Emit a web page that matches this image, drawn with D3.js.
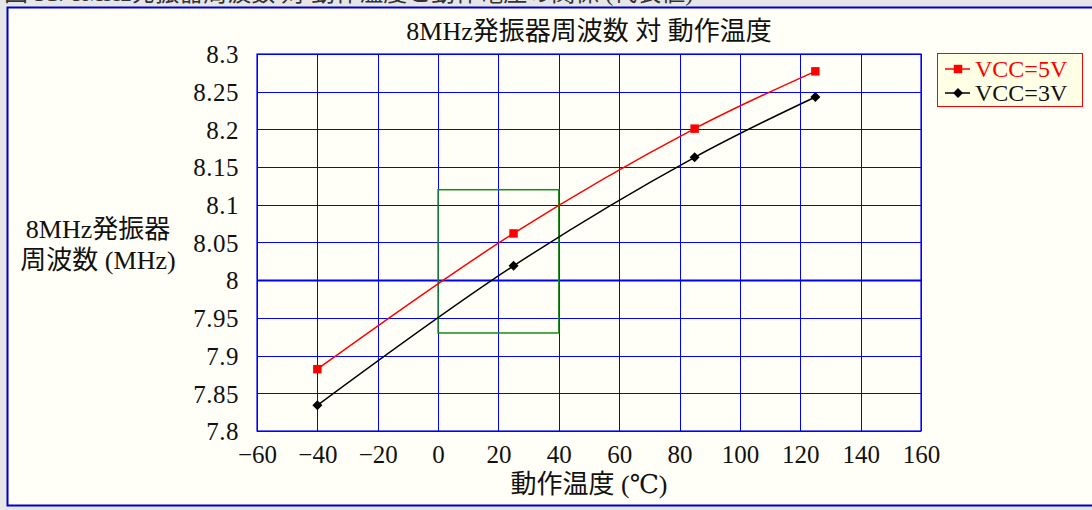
<!DOCTYPE html>
<html>
<head>
<meta charset="utf-8">
<script src="https://cdn.jsdelivr.net/npm/d3@7"></script>
<style>
  html, body { margin: 0; padding: 0; background: #e6e6e6; }
  svg text { font-family: "Liberation Serif", "DejaVu Serif", "Noto Sans CJK JP", serif; fill: #111; }
</style>
</head>
<body>
<div id="chart"></div>
<script>
// data
const temps = [-40, 25, 85, 125];
const vcc5 = [7.882, 8.062, 8.201, 8.277];
const vcc3 = [7.834, 8.019, 8.163, 8.243];
const seriesNames = ["VCC=5V", "VCC=3V"];
const xTicks = [-60, -40, -20, 0, 20, 40, 60, 80, 100, 120, 140, 160];
const yTicks = [7.8, 7.85, 7.9, 7.95, 8, 8.05, 8.1, 8.15, 8.2, 8.25, 8.3];
const boxX = [0, 40];
const boxY = [7.93, 8.12];

const W = 1092, H = 510;
const margin = { top: 54, right: 171, bottom: 79, left: 257 };

const svg = d3.select("#chart").append("svg")
    .attr("width", W)
    .attr("height", H);

// caption of the page above the frame, mostly cut off
svg.append("text")
    .attr("x", 4).attr("y", 1)
    .style("font-size", "24px")
    .style("fill", "#333")
    .text("図 31. 8MHz発振器周波数 対 動作温度と動作電圧の関係 (代表値)");

// outer frame
svg.append("rect")
    .attr("x", 7.5).attr("y", 7.5)
    .attr("width", W + 10).attr("height", 498)
    .attr("fill", "#fffff7")
    .attr("stroke", "#0000cc")
    .attr("stroke-width", 2);

const x = d3.scaleLinear().domain([-60, 160]).range([margin.left, W - margin.right]);
const y = d3.scaleLinear().domain([7.8, 8.3]).range([H - margin.bottom, margin.top]);

const g = svg.append("g");

// grid
g.selectAll(".vgrid")
    .data(xTicks)
    .enter().append("line")
    .attr("x1", d => Math.round(x(d)) + 0.5).attr("x2", d => Math.round(x(d)) + 0.5)
    .attr("y1", y(8.3)).attr("y2", y(7.8))
    .attr("stroke", "#0000ff").attr("stroke-width", 1);

g.selectAll(".hgrid")
    .data(yTicks)
    .enter().append("line")
    .attr("x1", x(-60)).attr("x2", x(160))
    .attr("y1", d => Math.round(y(d)) + 0.5).attr("y2", d => Math.round(y(d)) + 0.5)
    .attr("stroke", "#0000ff")
    .attr("stroke-width", d => d === 8 ? 2 : 1);

// plot border
g.append("rect")
    .attr("x", x(-60)).attr("y", y(8.3))
    .attr("width", x(160) - x(-60)).attr("height", y(7.8) - y(8.3))
    .attr("fill", "none").attr("stroke", "#0000ff").attr("stroke-width", 1.2);

// green spec box
g.append("rect")
    .attr("x", x(boxX[0])).attr("y", y(boxY[1]))
    .attr("width", x(boxX[1]) - x(boxX[0]))
    .attr("height", y(boxY[0]) - y(boxY[1]))
    .attr("fill", "none").attr("stroke", "#168a16").attr("stroke-width", 1.5);

// axes labels
const yAxis = svg.append("g")
    .attr("transform", `translate(${margin.left - 15},0)`)
    .call(d3.axisLeft(y).tickValues(yTicks).tickSize(0).tickFormat(d => d3.format("")(+d.toFixed(2))));
yAxis.select(".domain").remove();
yAxis.selectAll("text")
    .attr("dy", "0.35em")
    .style("font-size", "25px")
    .style("letter-spacing", "0.5px")
    .style("font-family", "'Liberation Serif', serif");

const xAxis = svg.append("g")
    .attr("transform", `translate(0,${H - margin.bottom + 11})`)
    .call(d3.axisBottom(x).tickValues(xTicks).tickSize(0).tickFormat(d => d < 0 ? "\u2212" + Math.abs(d) : d));
xAxis.select(".domain").remove();
xAxis.selectAll("text")
    .attr("dy", "0.71em")
    .style("font-size", "25px")
    .style("font-family", "'Liberation Serif', serif");

// series
const line = d3.line()
    .x(d => x(d[0]))
    .y(d => y(d[1]))
    .curve(d3.curveCatmullRom.alpha(0.5));

const series = [
    { name: seriesNames[0], values: temps.map((t, i) => [t, vcc5[i]]), color: "#ff0000", symbol: d3.symbolSquare, size: 72, rot: 0 },
    { name: seriesNames[1], values: temps.map((t, i) => [t, vcc3[i]]), color: "#000000", symbol: d3.symbolSquare, size: 50, rot: 45 }
];

series.forEach(s => {
    g.append("path")
        .datum(s.values)
        .attr("d", line)
        .attr("fill", "none")
        .attr("stroke", s.color)
        .attr("stroke-width", 1.5);
    g.selectAll(null)
        .data(s.values)
        .enter().append("path")
        .attr("d", d3.symbol().type(s.symbol).size(s.size))
        .attr("transform", d => `translate(${x(d[0])},${y(d[1])}) rotate(${s.rot})`)
        .attr("fill", s.color);
});

// titles
svg.append("text")
    .attr("x", (x(-60) + x(160)) / 2).attr("y", 40)
    .attr("text-anchor", "middle")
    .style("font-size", "26px")
    .text("8MHz発振器周波数 対 動作温度");

svg.append("text")
    .attr("x", (x(-60) + x(160)) / 2).attr("y", 493)
    .attr("text-anchor", "middle")
    .style("font-size", "26px")
    .text("動作温度 (℃)");

const yTitle = svg.append("text")
    .attr("text-anchor", "middle")
    .style("font-size", "26px");
yTitle.append("tspan").attr("x", 98).attr("y", 238).text("8MHz発振器");
yTitle.append("tspan").attr("x", 98).attr("y", 269).text("周波数 (MHz)");

// legend
const legend = svg.append("g").attr("transform", "translate(937,53)");
legend.append("rect")
    .attr("x", 0.5).attr("y", 0.5)
    .attr("width", 145).attr("height", 53)
    .attr("fill", "#ffffe6")
    .attr("stroke", "#ff0000").attr("stroke-width", 1);

series.forEach((s, i) => {
    const ly = 16 + i * 24;
    legend.append("line")
        .attr("x1", 8).attr("x2", 33)
        .attr("y1", ly).attr("y2", ly)
        .attr("stroke", s.color).attr("stroke-width", 1.5);
    legend.append("path")
        .attr("d", d3.symbol().type(s.symbol).size(s.size)())
        .attr("transform", `translate(21,${ly}) rotate(${s.rot})`)
        .attr("fill", s.color);
    legend.append("text")
        .attr("x", 38).attr("y", ly + 8)
        .style("font-size", "24px")
        .style("fill", s.color === "#ff0000" ? "#ff0000" : "#111")
        .text(s.name);
});
</script>
</body>
</html>
